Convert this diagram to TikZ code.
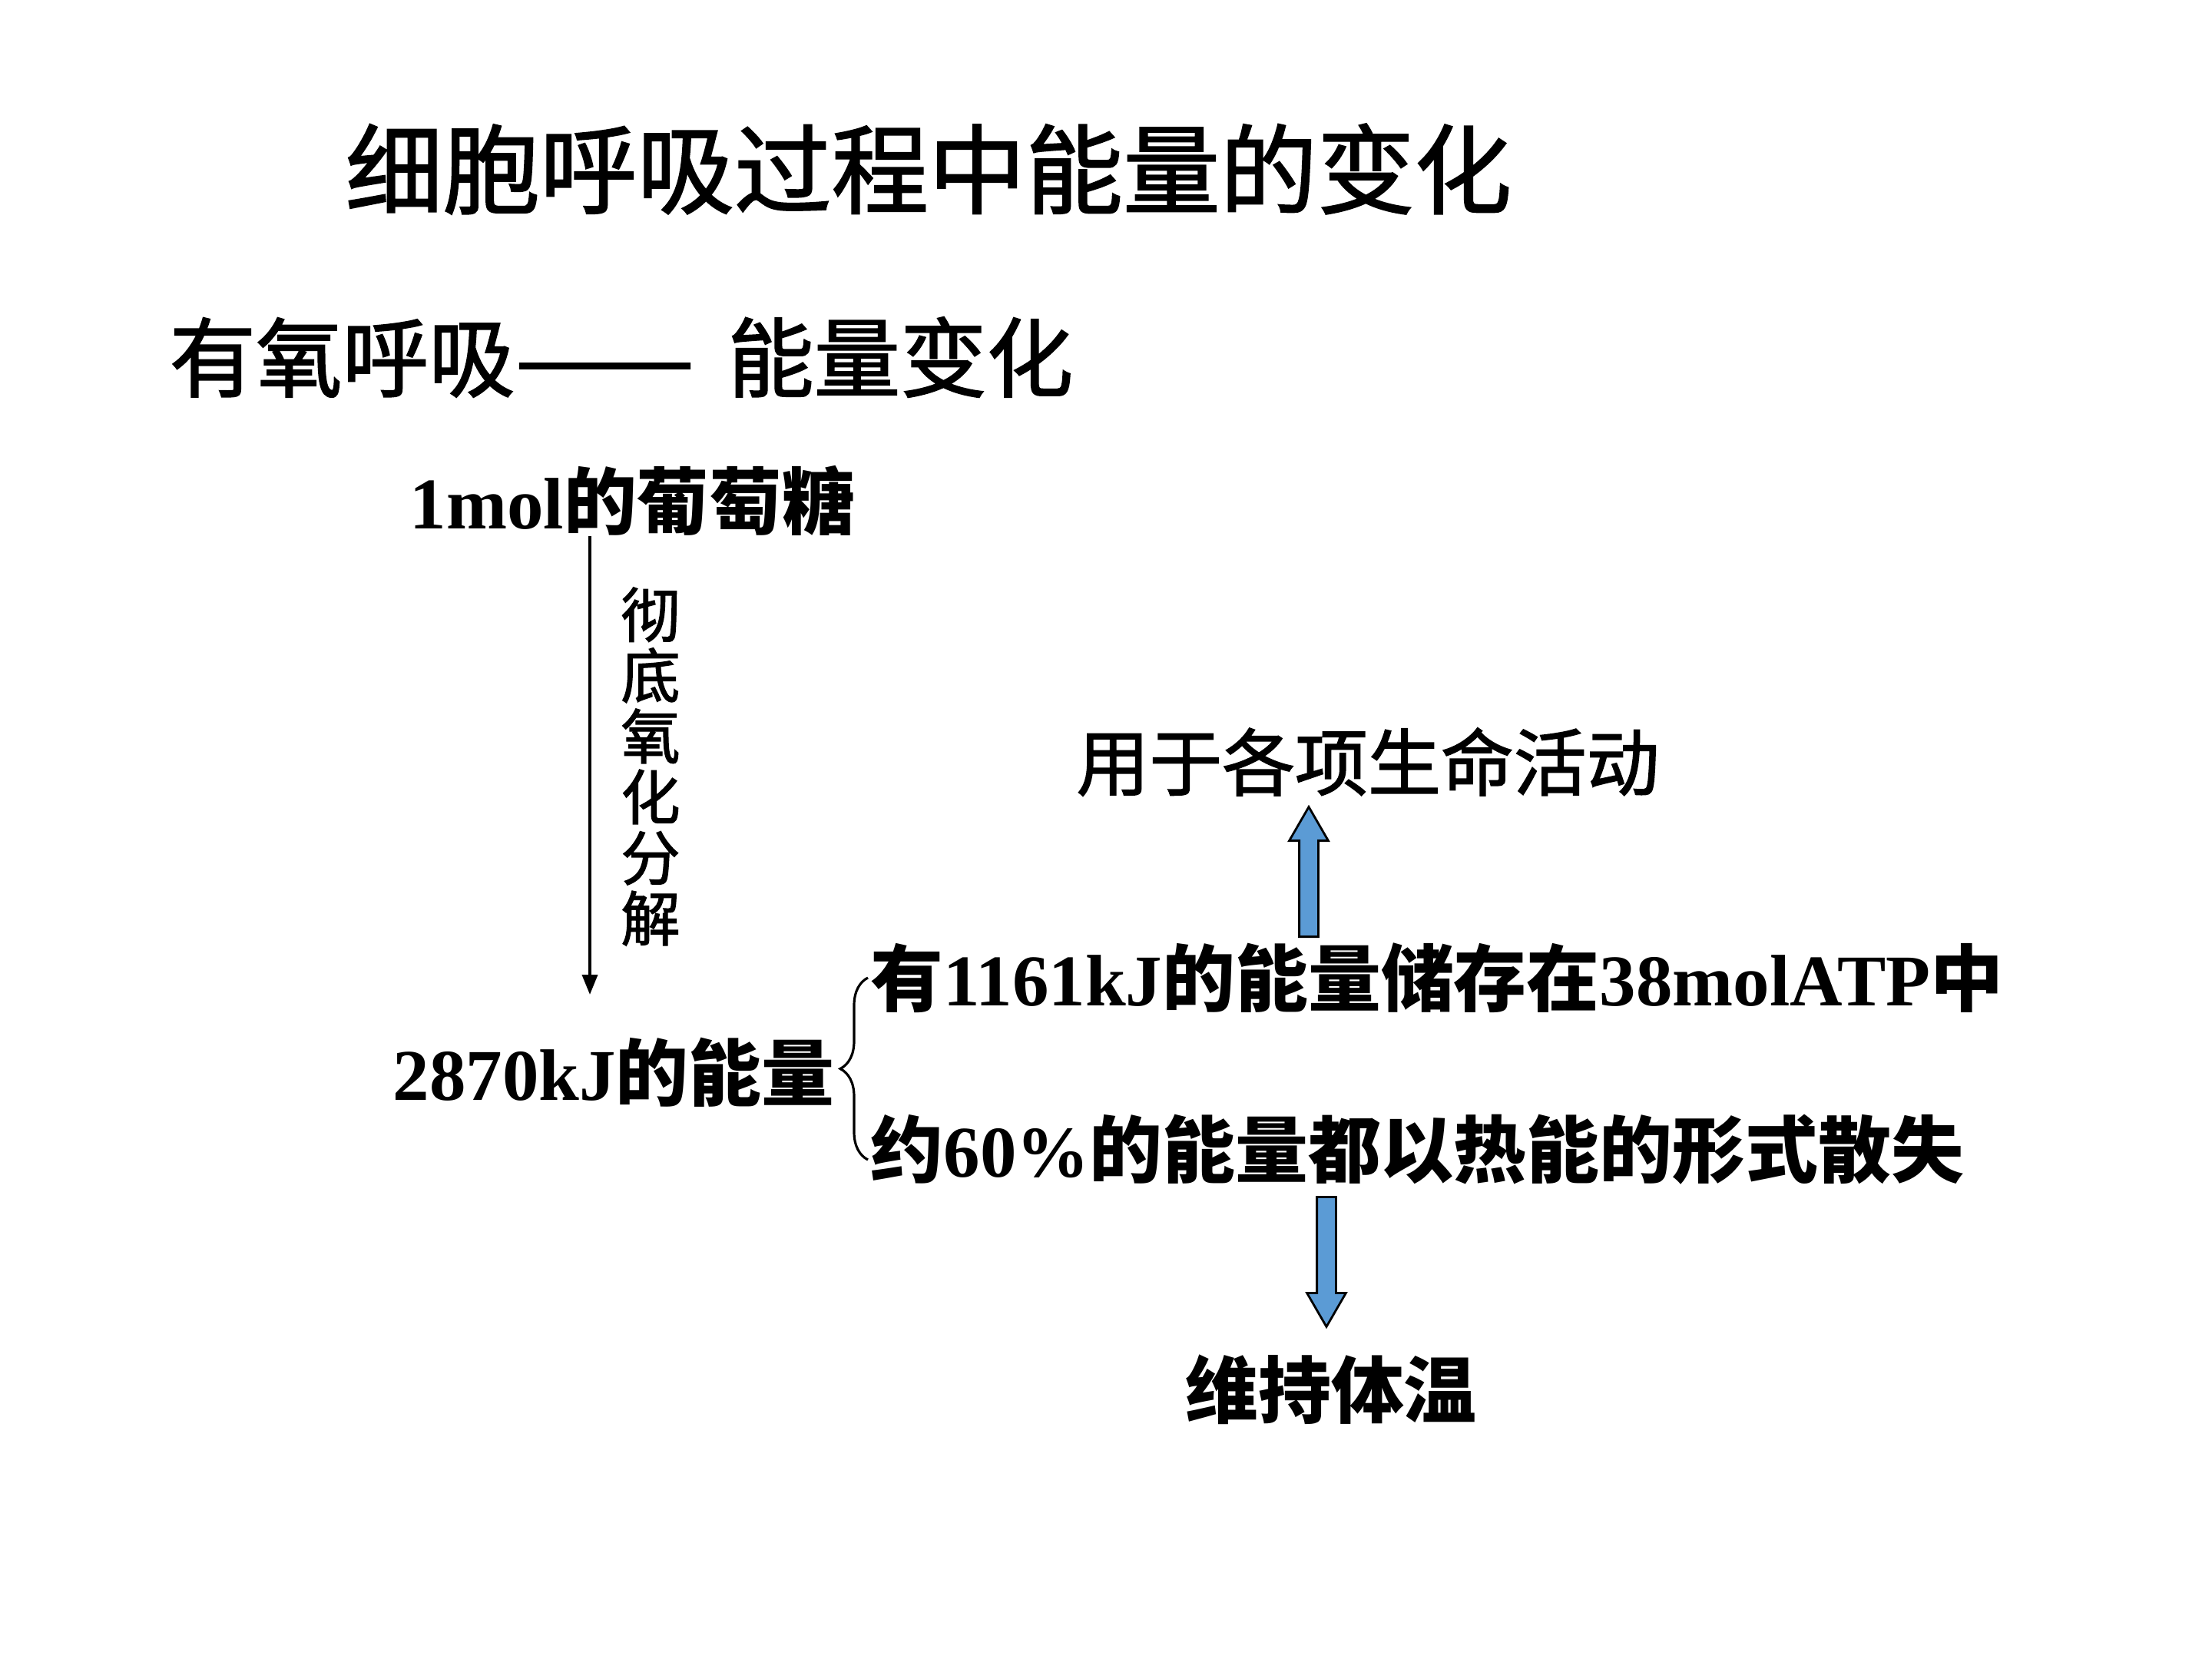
\documentclass[tikz,border=0pt]{standalone}
\usepackage{fontspec}
\setmainfont{Liberation Serif}
\newfontfamily\cjk{Noto Sans CJK SC}
\newfontfamily\cjkhead{Noto Sans CJK SC}[FakeBold=1.6]
\usetikzlibrary{positioning, arrows.meta, decorations.pathreplacing, shapes.arrows}
\definecolor{arrowblue}{RGB}{91,155,213}
\newcommand{\ltn}[1]{{\rmfamily\bfseries #1}}

\begin{document}
\begin{tikzpicture}[every node/.style={inner sep=0pt},
  bodytext/.style={anchor=west, font=\cjk\bfseries\fontsize{27}{32}\selectfont},
  blockarrow/.style={single arrow, draw=black, line width=0.8pt, fill=arrowblue,
    inner ysep=0.11cm, single arrow head extend=0.13cm,
    single arrow tip angle=60, minimum height=1.69cm}]
  \fill[white] (0,0) rectangle (28.8,-21.6);
  \useasboundingbox (0,0) rectangle (28.8,-21.6);

  % headings
  \node[font=\cjkhead\fontsize{36}{40}\selectfont] (title) at (12.09,-2.20) {细胞呼吸过程中能量的变化};
  \node[anchor=west, font=\cjkhead\fontsize{32}{36}\selectfont] (sub) at (2.20,-4.65) {有氧呼吸\scalebox{1.24}[1]{——}\hspace{0.43cm}能量变化};

  % glucose -> total energy
  \node[bodytext] (glc) at (5.33,-6.52) {\ltn{1mol}的葡萄糖};
  \node[bodytext] (total) at (5.11,-13.96) {\ltn{2870kJ}的能量};
  \coordinate (aEnd) at (7.68,-12.95);
  \draw[-{Triangle[width=0.2cm,length=0.26cm]}, line width=1.1pt] (glc.south -| aEnd) -- (aEnd);
  \node[font=\cjkhead\fontsize{22}{22.5}\selectfont, align=center] (oxid) at (8.47,-9.98) {彻\\底\\氧\\化\\分\\解};

  % split of the energy
  \node[bodytext] (atp) at (11.33,-12.73) {有\ltn{1161kJ}的能量储存在\ltn{38molATP}中};
  \node[bodytext] (heat) at (11.33,-14.97) {约\ltn{60\%}的能量都以热能的形式散失};
  \draw[decorate, decoration={brace, amplitude=0.36cm}, line width=0.9pt]
    ([xshift=-0.03cm,yshift=-0.13cm]heat.west) -- ([xshift=-0.03cm]atp.west);

  % uses
  \node[font=\cjkhead\fontsize{27}{32}\selectfont] (use) at (17.81,-9.92) {用于各项生命活动};
  \node[font=\cjk\bfseries\fontsize{27}{32}\selectfont] (warm) at (17.33,-18.09) {维持体温};
  \node[blockarrow, rotate=90, anchor=tail] (up) at (17.04,-12.21) {};
  \node[blockarrow, rotate=-90, anchor=tail] (down) at (17.27,-15.57) {};
\end{tikzpicture}
\end{document}
